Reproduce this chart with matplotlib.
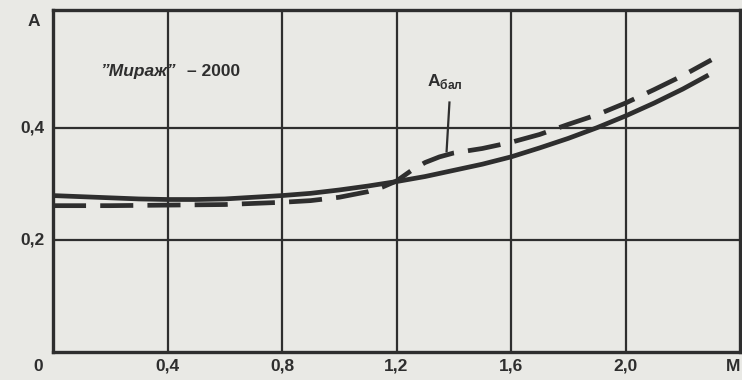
import matplotlib.pyplot as plt

# числа Маха и коэффициенты A (сплошная и пунктирная кривые)
m_solid = [0, 0.1, 0.2, 0.3, 0.4, 0.5, 0.6, 0.7, 0.8, 0.9, 1.0, 1.1, 1.2,
           1.3, 1.4, 1.5, 1.6, 1.7, 1.8, 1.9, 2.0, 2.1, 2.2, 2.29]
a_solid = [0.279, 0.277, 0.275, 0.273, 0.272, 0.272, 0.273, 0.276, 0.279,
           0.283, 0.289, 0.296, 0.304, 0.313, 0.324, 0.335, 0.348, 0.364,
           0.381, 0.400, 0.421, 0.444, 0.469, 0.494]
m_bal = [0, 0.2, 0.4, 0.6, 0.8, 0.9, 1.0, 1.1, 1.15, 1.2, 1.25, 1.3, 1.35,
         1.4, 1.5, 1.6, 1.7, 1.8, 1.9, 2.0, 2.1, 2.2, 2.3]
a_bal = [0.261, 0.261, 0.262, 0.263, 0.267, 0.270, 0.276, 0.286, 0.294,
         0.305, 0.323, 0.338, 0.348, 0.355, 0.363, 0.374, 0.388, 0.406,
         0.423, 0.444, 0.468, 0.493, 0.521]
x_ticks = [0.4, 0.8, 1.2, 1.6, 2.0]
x_labels = ["0,4", "0,8", "1,2", "1,6", "2,0"]
y_ticks = [0.2, 0.4]
y_labels = ["0,2", "0,4"]

ink = "#2e2e2e"
paper = "#e9e9e5"
fs = 12.5
plt.rcParams["font.family"] = ["Liberation Sans", "DejaVu Sans"]

fig = plt.figure(figsize=(7.42, 3.80), dpi=100, facecolor=paper)
ax = fig.add_axes([53 / 742, 28 / 380, 687 / 742, 342 / 380])
ax.set_facecolor(paper)
ax.set_xlim(0, 2.4)
ax.set_ylim(0, 0.61)

for x in x_ticks:
    ax.axvline(x, color=ink, lw=1.6, zorder=1)
for y in y_ticks:
    ax.axhline(y, color=ink, lw=1.6, zorder=1)

ax.plot(m_solid, a_solid, color=ink, lw=3.4, solid_capstyle="butt", zorder=3)
ax.plot(m_bal, a_bal, color=ink, lw=3.4, dashes=(7, 3), zorder=3)

for side in ["left", "bottom", "top", "right"]:
    ax.spines[side].set_color(ink)
    ax.spines[side].set_linewidth(2.4)

ax.set_xticks([])
ax.set_yticks([])
for x, lab in zip(x_ticks, x_labels):
    ax.text(x, -0.012, lab, ha="center", va="top", fontsize=fs,
            fontweight="bold", color=ink)
for y, lab in zip(y_ticks, y_labels):
    ax.text(-0.03, y, lab, ha="right", va="center", fontsize=fs,
            fontweight="bold", color=ink)
ax.text(-0.035, -0.012, "0", ha="right", va="top", fontsize=fs,
        fontweight="bold", color=ink)
ax.text(1.0, -0.012, "M", ha="right", va="top", fontsize=fs,
        fontweight="bold", color=ink, transform=ax.get_yaxis_transform())
ax.text(-0.045, 0.59, "A", ha="right", va="center", fontsize=fs,
        fontweight="bold", color=ink)

t1 = ax.text(0.165, 0.5, "\u201dМираж\u201d", ha="left", va="center",
             fontsize=fs, fontweight="bold", fontstyle="italic", color=ink)
ax.annotate("– 2000", xy=(1, 0.5), xycoords=t1, xytext=(8, 0),
            textcoords="offset points", ha="left", va="center",
            fontsize=fs, fontweight="bold", color=ink)

ax.text(1.305, 0.482, "A$_{\\mathregular{бал}}$", ha="left", va="center",
        fontsize=fs, fontweight="bold", color=ink)
ax.plot([1.385, 1.375], [0.445, 0.358], color=ink, lw=1.6, zorder=2)

fig.savefig("out.png", dpi=100, facecolor=paper)
